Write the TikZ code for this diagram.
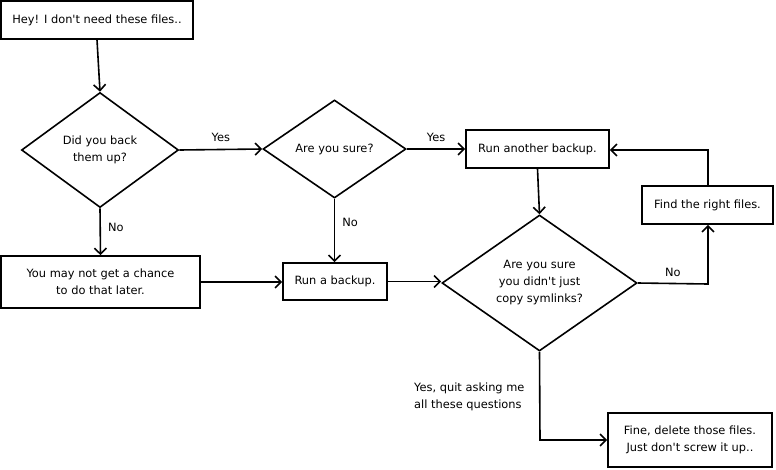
\documentclass[tikz,border=0pt]{standalone}
\usepackage{fontspec}
\setmainfont{DejaVu Sans}[Ligatures=TeXOff]
\usetikzlibrary{shapes.geometric,arrows.meta}
\begin{document}
\begin{tikzpicture}[x=1pt,y=-1pt,
  every node/.style={font=\fontsize{11.4}{17}\selectfont},
  box/.style={draw,line width=1.6pt,rectangle,inner sep=0pt,align=center},
  dia/.style={draw,line width=1.6pt,diamond,inner sep=0pt,align=center},
  conn/.style={line width=1.6pt,-{Straight Barb[length=6pt,width=12pt,line width=1.6pt]}},
  lbl/.style={inner sep=0pt}
]
\useasboundingbox (0,0) rectangle (776,469);
\node[box,minimum width=192pt,minimum height=38pt] (start) at (97,20) {Hey! I don't need these files..};
\node[dia,minimum width=157pt,minimum height=115pt] (d1) at (100,150) {Did you back\\them up?};
\node[box,minimum width=199pt,minimum height=52pt] (late) at (100.5,282) {You may not get a chance\\to do that later.};
\node[dia,minimum width=143pt,minimum height=98pt] (d2) at (334.5,149) {Are you sure?};
\node[box,minimum width=104pt,minimum height=37pt] (rb) at (335,281.5) {Run a backup.};
\node[box,minimum width=143pt,minimum height=38pt] (rab) at (537.5,149) {Run another backup.};
\node[dia,minimum width=195pt,minimum height=136pt] (d3) at (539.5,283) {Are you sure\\you didn't just\\copy symlinks?};
\node[box,minimum width=131pt,minimum height=38pt] (find) at (707.5,205) {Find the right files.};
\node[box,minimum width=164pt,minimum height=54pt] (fine) at (690,440) {Fine, delete those files.\\Just don't screw it up..};

\coordinate (c1) at (708,284);
\coordinate (c2) at (708,150);
\coordinate (c3) at (540,440);

\draw[conn] (start.south) -- (d1.north);
\draw[conn] (d1.east) -- node[lbl,above=7pt] {Yes} (d2.west);
\draw[conn] (d1.south) -- node[lbl,right=7pt,pos=0.41] {No} (late.north);
\draw[conn] (d2.east) -- node[lbl,above=7pt] {Yes} (d2.east -| rab.west);
\draw[conn] (d2.south) -- node[lbl,right=7pt,pos=0.38] {No} (d2.south |- rb.north);
\draw[conn] (late.east) -- (late.east -| rb.west);
\draw[conn] (rb.east) -- (rb.east -| d3.west);
\draw[conn] (rab.south) -- (d3.north);
\draw[conn] (d3.east) -- node[lbl,above=6pt] {No} (c1) -- (find.south -| c1);
\draw[conn] (find.north -| c2) -- (c2) -- (c2 -| rab.east);
\draw[conn] (d3.south) -- (c3) -- (c3 -| fine.west);
\node[lbl,align=left,anchor=west] (q) at (414,397) {Yes, quit asking me\\all these questions};
\end{tikzpicture}
\end{document}
